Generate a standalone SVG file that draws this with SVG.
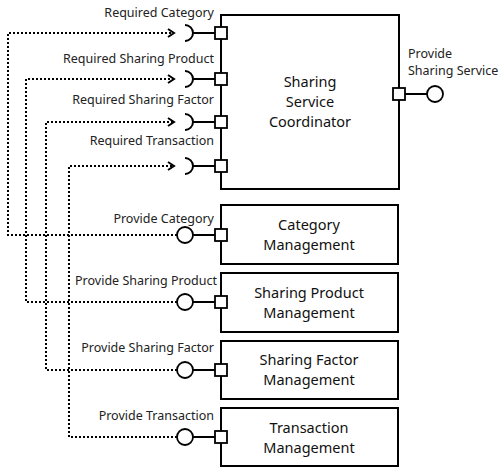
<svg xmlns="http://www.w3.org/2000/svg" width="502" height="468" viewBox="0 0 502 468">
<defs>
<style>
.box{fill:#fff;stroke:#000;stroke-width:2}
.port{fill:#fff;stroke:#000;stroke-width:1.8}
.ln{fill:none;stroke:#000;stroke-width:2}
.dot{fill:none;stroke:#000;stroke-width:2;stroke-dasharray:2 2}
.lbl{font-family:"Noto Sans","Open Sans",sans-serif;font-size:12.5px;fill:#222}
.ttl{font-family:"Noto Sans","Open Sans",sans-serif;font-size:14.5px;fill:#111;text-anchor:middle}
</style>
<marker id="arr" markerWidth="10" markerHeight="10" refX="7" refY="5" orient="auto" markerUnits="userSpaceOnUse">
<path d="M1,1 L7,5 L1,9" fill="none" stroke="#000" stroke-width="2"/>
</marker>
</defs>
<rect width="502" height="468" fill="#fff"/>
<g id="connectors">
<path class="dot" d="M177,235 H8 V33 H174" marker-end="url(#arr)"/>
<path class="dot" d="M177,302 H26 V79 H174" marker-end="url(#arr)"/>
<path class="dot" d="M177,370 H46 V122 H174" marker-end="url(#arr)"/>
<path class="dot" d="M177,437 H69 V166 H174" marker-end="url(#arr)"/>
</g>
<g id="coordinator">
<rect class="box" x="221" y="15" width="178" height="174"/>
<text class="ttl" x="310" y="87">Sharing</text>
<text class="ttl" x="310" y="107">Service</text>
<text class="ttl" x="310" y="127">Coordinator</text>
<g id="req-category">
<path class="ln" d="M185,25 A8,8 0 0 1 185,41 M193,33 H215"/>
<rect class="port" x="215" y="27" width="12" height="12"/>
<text class="lbl" x="214" y="17" text-anchor="end">Required Category</text>
</g>
<g id="req-product">
<path class="ln" d="M185,71 A8,8 0 0 1 185,87 M193,79 H215"/>
<rect class="port" x="215" y="73" width="12" height="12"/>
<text class="lbl" x="214" y="63" text-anchor="end">Required Sharing Product</text>
</g>
<g id="req-factor">
<path class="ln" d="M185,114 A8,8 0 0 1 185,130 M193,122 H215"/>
<rect class="port" x="215" y="116" width="12" height="12"/>
<text class="lbl" x="214" y="104" text-anchor="end">Required Sharing Factor</text>
</g>
<g id="req-transaction">
<path class="ln" d="M185,158 A8,8 0 0 1 185,174 M193,166 H215"/>
<rect class="port" x="215" y="160" width="12" height="12"/>
<text class="lbl" x="214" y="145" text-anchor="end">Required Transaction</text>
</g>
<g id="prov-service">
<path class="ln" d="M405,94 H427"/>
<rect class="port" x="393" y="88" width="12" height="12"/>
<circle class="port" cx="435" cy="94" r="8"/>
<text class="lbl" x="408" y="58">Provide</text>
<text class="lbl" x="408" y="75">Sharing Service</text>
</g>
</g>
<g id="category-management">
<rect class="box" x="221" y="205" width="177" height="59"/>
<text class="ttl" x="309" y="230">Category</text>
<text class="ttl" x="309" y="250">Management</text>
<path class="ln" d="M193,235 H215"/>
<circle class="port" cx="185" cy="235" r="8"/>
<rect class="port" x="215" y="229" width="12" height="12"/>
<text class="lbl" x="214" y="223" text-anchor="end">Provide Category</text>
</g>
<g id="sharing-product-management">
<rect class="box" x="221" y="273" width="177" height="59"/>
<text class="ttl" x="309" y="298">Sharing Product</text>
<text class="ttl" x="309" y="318">Management</text>
<path class="ln" d="M193,302 H215"/>
<circle class="port" cx="185" cy="302" r="8"/>
<rect class="port" x="215" y="296" width="12" height="12"/>
<text class="lbl" x="217" y="285" text-anchor="end">Provide Sharing Product</text>
</g>
<g id="sharing-factor-management">
<rect class="box" x="221" y="341" width="177" height="58"/>
<text class="ttl" x="309" y="365">Sharing Factor</text>
<text class="ttl" x="309" y="385">Management</text>
<path class="ln" d="M193,370 H215"/>
<circle class="port" cx="185" cy="370" r="8"/>
<rect class="port" x="215" y="364" width="12" height="12"/>
<text class="lbl" x="214" y="352" text-anchor="end">Provide Sharing Factor</text>
</g>
<g id="transaction-management">
<rect class="box" x="221" y="408" width="177" height="58"/>
<text class="ttl" x="309" y="433">Transaction</text>
<text class="ttl" x="309" y="453">Management</text>
<path class="ln" d="M193,437 H215"/>
<circle class="port" cx="185" cy="437" r="8"/>
<rect class="port" x="215" y="431" width="12" height="12"/>
<text class="lbl" x="214" y="420" text-anchor="end">Provide Transaction</text>
</g>
</svg>
